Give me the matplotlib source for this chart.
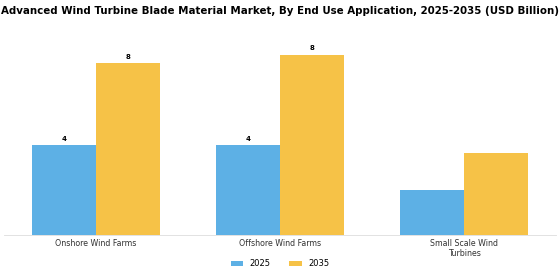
import matplotlib.pyplot as plt
import numpy as np

categories = ["Onshore Wind Farms", "Offshore Wind Farms", "Small Scale Wind\nTurbines"]
years = ["2025", "2035"]
values_2025 = [4.2, 4.2, 2.1]
values_2035 = [8.0, 8.4, 3.8]
shown_labels_2025 = ["4", "4", ""]
shown_labels_2035 = ["8", "8", ""]

colors = ["#5DB0E5", "#F6C247"]

fig = plt.figure(figsize=(5.6, 2.8), dpi=100)
ax = fig.add_axes([0.007, 0.161, 0.986, 0.69])

x = np.arange(len(categories))
w = 0.35
b1 = ax.bar(x - w / 2, values_2025, w, color=colors[0], label=years[0])
b2 = ax.bar(x + w / 2, values_2035, w, color=colors[1], label=years[1])

for bars, labs in [(b1, shown_labels_2025), (b2, shown_labels_2035)]:
    for bar, lab in zip(bars, labs):
        if lab:
            ax.text(bar.get_x() + bar.get_width() / 2, bar.get_height() + 0.15, lab,
                    ha="center", va="bottom", fontsize=5, fontweight="bold")

ax.set_xlim(-0.5, 2.5)
ax.set_ylim(0, 9)
ax.set_xticks(x)
ax.set_xticklabels(categories, fontsize=5.7, color="#333333")
ax.tick_params(axis="x", length=0, pad=3)
ax.set_yticks([])
for s in ["top", "right", "left"]:
    ax.spines[s].set_visible(False)
ax.spines["bottom"].set_color("#dddddd")
ax.spines["bottom"].set_linewidth(0.6)

fig.suptitle("Advanced Wind Turbine Blade Material Market, By End Use Application, 2025-2035 (USD Billion)",
             fontsize=7.35, fontweight="bold", x=0.5, y=0.98)
fig.legend(loc="lower center", ncol=2, frameon=False, fontsize=6,
           bbox_to_anchor=(0.5, 0.015), handlelength=1.5, handleheight=0.6, columnspacing=2.2)

fig.savefig("out.png", dpi=100)
